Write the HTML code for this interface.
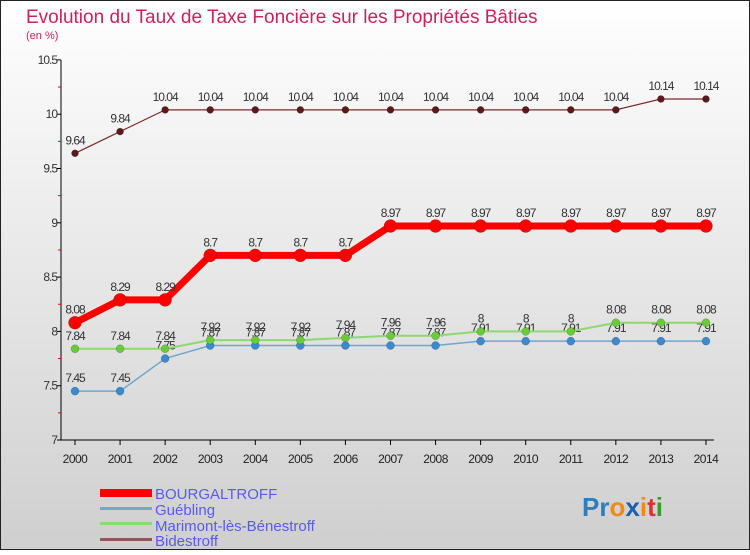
<!DOCTYPE html>
<html><head><meta charset="utf-8"><style>
html,body{margin:0;padding:0}
body{width:750px;height:550px;overflow:hidden;font-family:"Liberation Sans",sans-serif}
</style></head><body>
<svg id="c" width="750" height="550" xmlns="http://www.w3.org/2000/svg">
<defs><linearGradient id="bg" x1="0" y1="0" x2="0" y2="1"><stop offset="0" stop-color="#ffffff"/><stop offset="1" stop-color="#cfcfcf"/></linearGradient></defs>
<rect x="0.5" y="0.5" width="749" height="549" fill="url(#bg)" stroke="#222"/>
<text x="26" y="23" font-size="19" fill="#c8245a">Evolution du Taux de Taxe Foncière sur les Propriétés Bâties</text>
<text x="26" y="39" font-size="11" fill="#c8245a">(en %)</text>
<g id="axes"></g><g id="series"></g>
<g>
<rect x="100" y="489" width="52" height="8" fill="#f00"/>
<rect x="100" y="507" width="52" height="3" fill="#6ea7d0"/>
<rect x="100" y="522" width="52" height="3" fill="#8ed870"/>
<rect x="100" y="538" width="52" height="3" fill="#8a5a5a"/>
<g font-size="15" fill="#5a5aee">
<text x="155" y="499">BOURGALTROFF</text>
<text x="155" y="515">Guébling</text>
<text x="155" y="531">Marimont-lès-Bénestroff</text>
<text x="155" y="546">Bidestroff</text>
</g></g>
<text x="582" y="516" font-size="26" font-weight="bold"><tspan fill="#2a7fc0">Pr</tspan><tspan fill="#f08a10">o</tspan><tspan fill="#1a5fb0">x</tspan><tspan fill="#f08a10">i</tspan><tspan fill="#e03030">t</tspan><tspan fill="#3a9a30">i</tspan></text>
</svg>
<script>
const years=[2000,2001,2002,2003,2004,2005,2006,2007,2008,2009,2010,2011,2012,2013,2014];
const yTicks=[7,7.5,8,8.5,9,9.5,10,10.5];
const yTickLabels=["7","7.5","8","8.5","9","9.5","10","10.5"];
const bourgaltroff=[8.08,8.29,8.29,8.7,8.7,8.7,8.7,8.97,8.97,8.97,8.97,8.97,8.97,8.97,8.97];
const guebling=[7.45,7.45,7.75,7.87,7.87,7.87,7.87,7.87,7.87,7.91,7.91,7.91,7.91,7.91,7.91];
const marimont=[7.84,7.84,7.84,7.92,7.92,7.92,7.94,7.96,7.96,8,8,8,8.08,8.08,8.08];
const bidestroff=[9.64,9.84,10.04,10.04,10.04,10.04,10.04,10.04,10.04,10.04,10.04,10.04,10.04,10.14,10.14];
const NS="http://www.w3.org/2000/svg";
const X=i=>75+i*45.07;
const Y=v=>440-(v-7)*108.6;
function mk(t,a,p){const e=document.createElementNS(NS,t);for(const k in a)e.setAttribute(k,a[k]);p.appendChild(e);return e;}
const ax=document.getElementById('axes');
let l=mk('line',{x1:61,y1:Y(10.5),x2:61,y2:Y(7),stroke:'#000'},ax);


l=mk('line',{x1:61,y1:440,x2:X(14)+8,y2:440,stroke:'#000'},ax);


yTicks.forEach((v,i)=>{
  mk('line',{x1:57,y1:Y(v),x2:61,y2:Y(v),stroke:'#000'},ax);
  if(i<yTicks.length-1)mk('line',{x1:58,y1:Y(v+0.25),x2:61,y2:Y(v+0.25),stroke:'#e00'},ax);
  const t=mk('text',{x:57,y:Y(v)+4,'text-anchor':'end','font-size':12,fill:'#333','letter-spacing':'-1'},ax);
  t.textContent=yTickLabels[i];
  
  
});
years.forEach((y,i)=>{
  mk('line',{x1:X(i),y1:440,x2:X(i),y2:445,stroke:'#000'},ax);
  const t=mk('text',{x:X(i),y:463,'text-anchor':'middle','font-size':12,fill:'#222','letter-spacing':'-0.5'},ax);
  t.textContent=y;
  
  
});
const sg=document.getElementById('series');
function draw(name,data,color,w,r,dot){
  const g=mk('g',{},sg);
  
  
  mk('polyline',{points:data.map((v,i)=>X(i)+','+Y(v)).join(' '),fill:'none',stroke:color,'stroke-width':w,'stroke-linejoin':'round'},g);
  data.forEach((v,i)=>{
    const c=mk('circle',{cx:X(i),cy:Y(v),r:r,fill:dot,stroke:'rgba(0,0,0,0.3)','stroke-width':0.5},g);
    
    
    const t=mk('text',{x:X(i),y:Y(v)-9,'text-anchor':'middle','font-size':12,fill:'#333','letter-spacing':'-1'},g);
    t.textContent=String(v);
    
    
  });
}
draw('bidestroff',bidestroff,'#7a2a2a',1.2,3.5,'#5a1a1a');
draw('guebling',guebling,'#6ea7d0',1.5,4,'#3a8ad0');
draw('marimont',marimont,'#8ed870',2,4,'#6acb3a');
draw('bourgaltroff',bourgaltroff,'#f00',7,6.5,'#f00');
</script>
</body></html>
